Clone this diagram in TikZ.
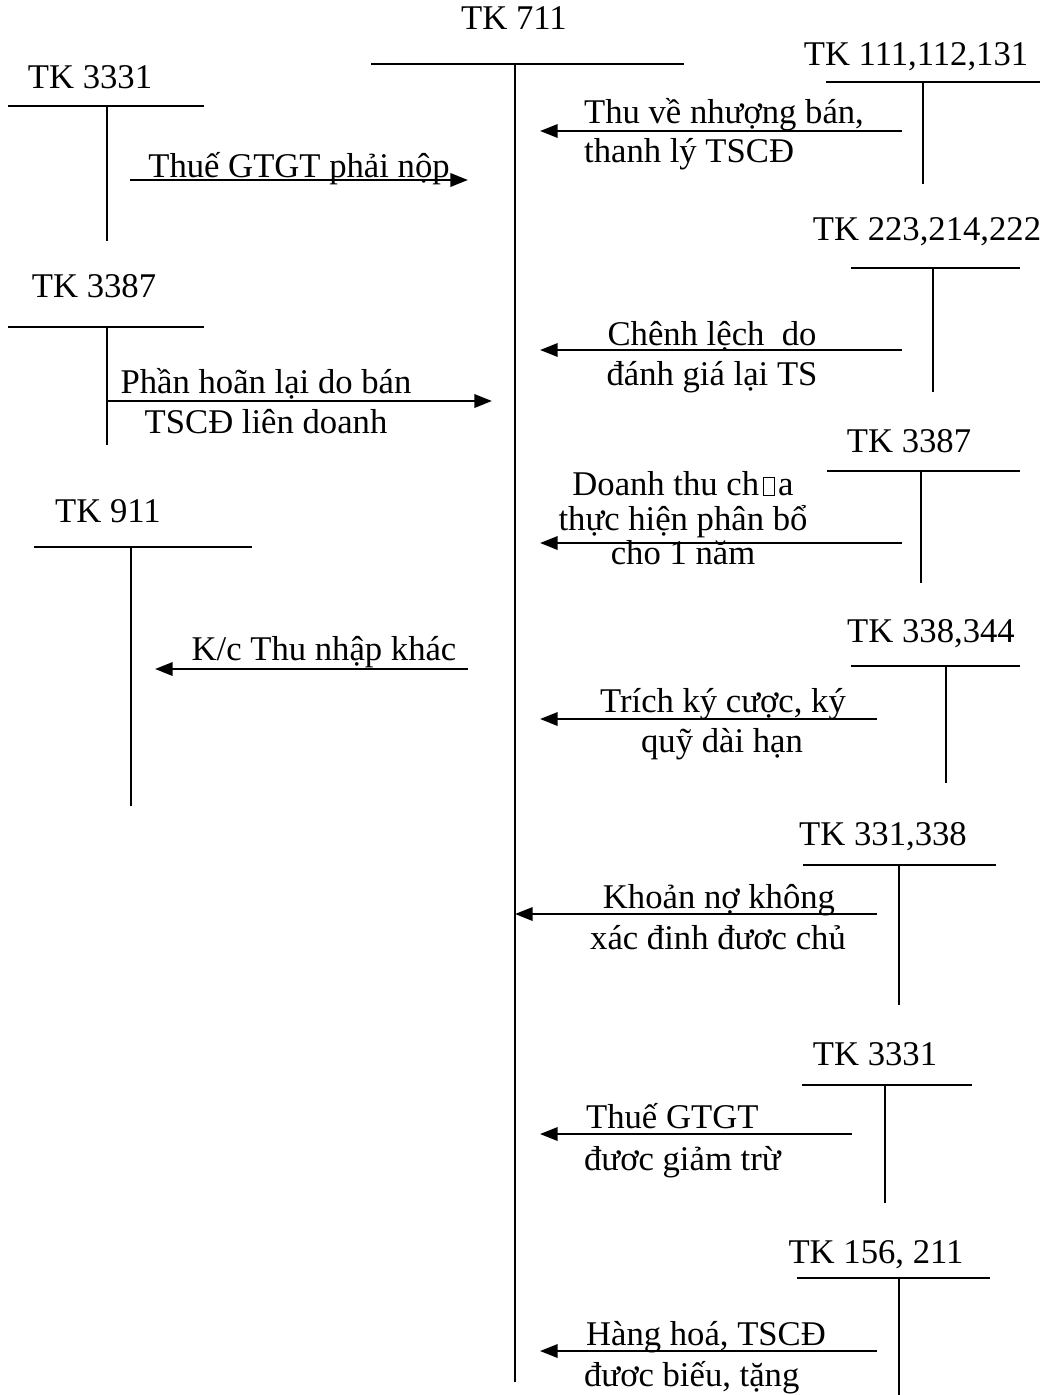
\documentclass[tikz,border=0pt]{standalone}
\usepackage{fontspec}
\setmainfont{Liberation Serif}
\usetikzlibrary{arrows.meta, positioning}

% box left where a glyph was missing
\newcommand{\missingglyph}{\hspace{0.1em}{\setlength{\fboxsep}{0pt}\setlength{\fboxrule}{0.45pt}\fbox{\rule{0pt}{0.48em}\hspace{0.28em}}}\hspace{0.1em}}

\begin{document}
\begin{tikzpicture}[x=0.375pt, y=-0.375pt, line width=0.85pt,
  tk/.style={inner sep=0pt, anchor=base, font=\fontsize{13}{15}\selectfont},
  txt/.style={inner sep=0pt, anchor=base, font=\fontsize{13}{15}\selectfont},
  txtl/.style={txt, anchor=base west},
  arr/.style={-{Triangle[length=6.6pt, width=5pt]}}]
  \useasboundingbox (0,0) rectangle (1048,1395);

  % TK 711: main account
  \node[tk] (tk711) at (514,30) {TK 711};
  \draw (371,64) -- (684,64);
  \draw (515,64) -- (515,1382);

  % TK 3331 (left)
  \node[tk] (tk3331l) at (90,89) {TK 3331};
  \draw (8,106) -- (204,106);
  \draw (107,106) -- (107,241);
  \coordinate (vat-s) at (130,180);
  \coordinate (vat-e) at (468,180);
  \draw[arr] (vat-s) -- (vat-e);
  \node[txt] (vat) at (299,177) {Thuế GTGT phải nộp};

  % TK 3387 (left)
  \node[tk] (tk3387l) at (94,297) {TK 3387};
  \draw (8,327) -- (204,327);
  \draw (107,327) -- (107,445);
  \coordinate (defer-s) at (107,401);
  \coordinate (defer-e) at (492,401);
  \draw[arr] (defer-s) -- (defer-e);
  \node[txt] (defer1) at (266,393) {Phần hoãn lại do bán};
  \node[txt] (defer2) at (266,433) {TSCĐ liên doanh};

  % TK 911
  \node[tk] (tk911) at (108,522) {TK 911};
  \draw (34,547) -- (252,547);
  \draw (131,547) -- (131,806);
  \coordinate (kc-s) at (468,669);
  \coordinate (kc-e) at (155,669);
  \draw[arr] (kc-s) -- (kc-e);
  \node[txt] (kc) at (324,660) {K/c Thu nhập khác};

  % TK 111,112,131
  \node[tk] (tk111) at (916,66) {TK 111,112,131};
  \draw (826,82) -- (1040,82);
  \draw (923,82) -- (923,184);
  \coordinate (sale-s) at (902,131);
  \coordinate (sale-e) at (540,131);
  \draw[arr] (sale-s) -- (sale-e);
  \node[txtl] (sale1) at (583,124) {Thu về nhượng bán,};
  \node[txtl] (sale2) at (583,163) {thanh lý TSCĐ};

  % TK 223,214,222
  \node[tk] (tk223) at (927,240) {TK 223,214,222};
  \draw (851,268) -- (1020,268);
  \draw (933,268) -- (933,392);
  \coordinate (reval-s) at (902,350);
  \coordinate (reval-e) at (540,350);
  \draw[arr] (reval-s) -- (reval-e);
  \node[txt] (reval1) at (712,345) {Chênh lệch\ \ do};
  \node[txt] (reval2) at (712,385) {đánh giá lại TS};

  % TK 3387 (right)
  \node[tk] (tk3387r) at (909,452) {TK 3387};
  \draw (827,471) -- (1020,471);
  \draw (921,471) -- (921,583);
  \coordinate (unearn-s) at (902,543);
  \coordinate (unearn-e) at (540,543);
  \draw[arr] (unearn-s) -- (unearn-e);
  \node[txt] (unearn1) at (683,495) {Doanh thu ch\missingglyph a};
  \node[txt] (unearn2) at (683,530) {thực hiện phân bổ};
  \node[txt] (unearn3) at (683,564) {cho 1 năm};

  % TK 338,344
  \node[tk] (tk338) at (931,642) {TK 338,344};
  \draw (851,666) -- (1020,666);
  \draw (946,666) -- (946,783);
  \coordinate (dep-s) at (877,719);
  \coordinate (dep-e) at (540,719);
  \draw[arr] (dep-s) -- (dep-e);
  \node[txt] (dep1) at (723,712) {Trích ký cược, ký};
  \node[txt] (dep2) at (722,752) {quỹ dài hạn};

  % TK 331,338
  \node[tk] (tk331) at (883,845) {TK 331,338};
  \draw (803,865) -- (996,865);
  \draw (899,865) -- (899,1005);
  \coordinate (debt-s) at (877,914);
  \coordinate (debt-e) at (515,914);
  \draw[arr] (debt-s) -- (debt-e);
  \node[txt] (debt1) at (719,908) {Khoản nợ không};
  \node[txt] (debt2) at (718,949) {xác đinh đươc chủ};

  % TK 3331 (right)
  \node[tk] (tk3331r) at (875,1065) {TK 3331};
  \draw (802,1085) -- (972,1085);
  \draw (885,1085) -- (885,1203);
  \coordinate (vatr-s) at (852,1134);
  \coordinate (vatr-e) at (540,1134);
  \draw[arr] (vatr-s) -- (vatr-e);
  \node[txtl] (vatr1) at (585,1128) {Thuế GTGT};
  \node[txtl] (vatr2) at (583,1170) {đươc giảm trừ};

  % TK 156, 211
  \node[tk] (tk156) at (876,1263) {TK 156, 211};
  \draw (797,1278) -- (990,1278);
  \draw (899,1278) -- (899,1395);
  \coordinate (gift-s) at (877,1351);
  \coordinate (gift-e) at (540,1351);
  \draw[arr] (gift-s) -- (gift-e);
  \node[txtl] (gift1) at (585,1345) {Hàng hoá, TSCĐ};
  \node[txtl] (gift2) at (583,1386) {đươc biếu, tặng};
\end{tikzpicture}
\end{document}
